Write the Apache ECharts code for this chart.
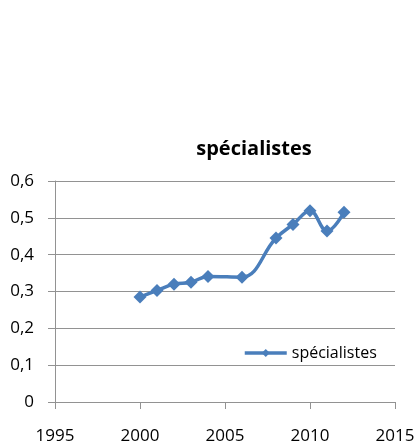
<!DOCTYPE html>
<html>
<head>
<meta charset="utf-8">
<script src="https://cdn.jsdelivr.net/npm/echarts@6/dist/echarts.min.js"></script>
<style>
  html, body { margin: 0; padding: 0; background: #fff; }
  #chart { width: 419px; height: 444px; }
</style>
</head>
<body>
<div id="chart"></div>
<script>
// Share of specialists per year (2005 and 2007 have no value)
const years = [2000, 2001, 2002, 2003, 2004, 2006, 2008, 2009, 2010, 2011, 2012];
const values = [0.285, 0.303, 0.320, 0.325, 0.341, 0.339, 0.445, 0.482, 0.519, 0.464, 0.515];
const seriesName = 'spécialistes';
const chartTitle = 'spécialistes';

const font = '"Open Sans", "Liberation Sans", sans-serif';
const gridColor = '#929292';
const lineColor = '#4a7ebb';

const chart = echarts.init(document.getElementById('chart'));
chart.setOption({
  animation: false,
  backgroundColor: '#ffffff',
  title: {
    text: chartTitle,
    left: 254,
    textAlign: 'center',
    top: 139,
    padding: 0,
    textStyle: { fontFamily: font, fontSize: 20, fontWeight: 'bold', color: '#000' }
  },
  legend: {
    data: [seriesName],
    left: 243,
    top: 345,
    padding: 0,
    itemWidth: 42,
    itemHeight: 10,
    itemGap: 4,
    lineStyle: { width: 3.5 },
    textStyle: { fontFamily: font, fontSize: 16, color: '#000' }
  },
  grid: {
    left: 55, right: 24, top: 181, bottom: 42,
    containLabel: false,
    outerBoundsMode: 'none'
  },
  xAxis: {
    type: 'value',
    min: 1995,
    max: 2015,
    interval: 5,
    axisLine: { show: true, lineStyle: { color: gridColor, width: 1 } },
    axisTick: { show: true, length: 7, lineStyle: { color: gridColor } },
    splitLine: { show: false },
    axisLabel: {
      margin: 26,
      fontFamily: font, fontSize: 17, color: '#000',
      formatter: v => String(v)
    }
  },
  yAxis: {
    type: 'value',
    min: 0,
    max: 0.6,
    interval: 0.1,
    axisLine: { show: true, lineStyle: { color: gridColor, width: 1 } },
    axisTick: { show: true, length: 7, lineStyle: { color: gridColor } },
    splitLine: { show: true, lineStyle: { color: gridColor, width: 1 } },
    axisLabel: {
      margin: 21,
      fontFamily: font, fontSize: 17, color: '#000',
      formatter: v => (Math.round(v * 10) / 10).toString().replace('.', ',')
    }
  },
  series: [{
    name: seriesName,
    type: 'line',
    data: years.map((y, i) => [y, values[i]]),
    smooth: 0.4,
    symbol: 'diamond',
    symbolSize: 13,
    lineStyle: { color: lineColor, width: 3.5 },
    itemStyle: { color: lineColor }
  }]
});
</script>
</body>
</html>
